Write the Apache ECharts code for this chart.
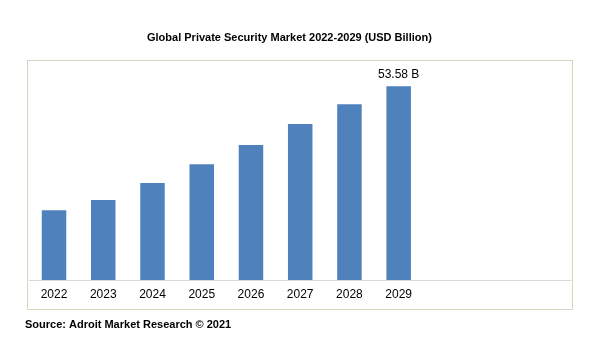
<!DOCTYPE html>
<html>
<head>
<meta charset="utf-8">
<script src="https://cdn.jsdelivr.net/npm/echarts@6/dist/echarts.min.js"></script>
<style>html,body{margin:0;padding:0;background:#fff}#c{width:610px;height:343px}</style>
</head>
<body>
<div id="c"></div>
<script>
var categories = ['2022','2023','2024','2025','2026','2027','2028','2029','','',''];
var values = [19.3, 22.1, 26.8, 32.0, 37.3, 43.1, 48.6, 53.58, null, null, null];
var labelText = '53.58 B';
var titleText = 'Global Private Security Market 2022-2029 (USD Billion)';
var sourceText = 'Source: Adroit Market Research \u00a9 2021';

var chart = echarts.init(document.getElementById('c'), null, {renderer:'canvas'});
chart.setOption({
  animation: false,
  backgroundColor: '#fff',
  title: {
    text: titleText,
    left: 147,
    top: 32,
    padding: 0,
    textStyle: {fontFamily:'Liberation Sans', fontSize: 11, fontWeight: 'bold', color:'#000'}
  },
  graphic: [
    {type:'rect', shape:{x:27.5, y:60.5, width:545, height:249}, style:{fill:'none', stroke:'#d9d5bf', lineWidth:1}, z:-1},
    {type:'text', left: 25, top: 319, style:{text: sourceText, font:'bold 11px "Liberation Sans"', fill:'#000'}}
  ],
  grid: {left: 29.4, right: 39, top: 63, bottom: 63, containLabel:false},
  xAxis: {
    type:'category', data: categories,
    axisLine:{lineStyle:{color:'#d9d9d9', width:1}},
    axisTick:{show:false},
    axisLabel:{fontFamily:'Liberation Sans', fontSize:12, color:'#000', margin:9, interval:0}
  },
  yAxis: {type:'value', min:0, max:60, show:false, splitLine:{show:false}},
  series: [{
    type:'bar', data: values, barWidth: 24.5,
    itemStyle:{color:'#4f81bd'},
    label:{show:true, position:'top', distance:6,
      formatter: function(p){ return p.dataIndex === 7 ? labelText : ''; },
      fontFamily:'Liberation Sans', fontSize:12, color:'#000'}
  }]
});
</script>
</body>
</html>
